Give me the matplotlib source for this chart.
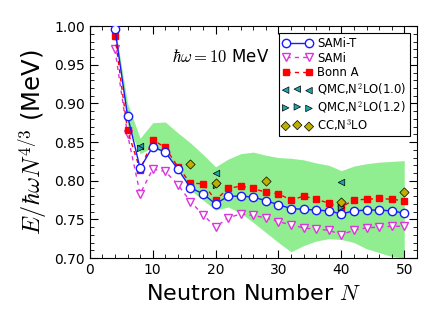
import matplotlib
matplotlib.use("Agg")
import matplotlib.pyplot as plt
from matplotlib.ticker import MultipleLocator

plt.rcParams['mathtext.fontset'] = 'cm'
plt.rcParams['font.family'] = ['DejaVu Sans']

N = [4, 6, 8, 10, 12, 14, 16, 18, 20, 22, 24, 26, 28, 30, 32, 34, 36, 38, 40, 42, 44, 46, 48, 50]
sami_t = [0.996, 0.884, 0.816, 0.844, 0.837, 0.815, 0.791, 0.783, 0.770, 0.780, 0.780, 0.779,
          0.774, 0.769, 0.764, 0.763, 0.762, 0.761, 0.757, 0.761, 0.762, 0.762, 0.761, 0.758]
sami = [0.970, 0.860, 0.783, 0.815, 0.812, 0.795, 0.773, 0.756, 0.740, 0.752, 0.757, 0.755,
        0.752, 0.747, 0.743, 0.739, 0.737, 0.736, 0.730, 0.736, 0.739, 0.740, 0.741, 0.741]
bonn_a = [0.987, 0.865, 0.814, 0.853, 0.843, 0.818, 0.797, 0.796, 0.775, 0.790, 0.793, 0.790,
          0.785, 0.783, 0.775, 0.780, 0.776, 0.771, 0.766, 0.775, 0.776, 0.777, 0.776, 0.774]

band_upper = [1.000, 0.900, 0.855, 0.875, 0.876, 0.862, 0.849, 0.834, 0.818, 0.828, 0.835, 0.837,
              0.833, 0.830, 0.829, 0.827, 0.823, 0.820, 0.813, 0.819, 0.822, 0.824, 0.825, 0.826]
band_lower = [0.992, 0.872, 0.835, 0.843, 0.835, 0.815, 0.788, 0.775, 0.762, 0.766, 0.758, 0.746,
              0.733, 0.720, 0.708, 0.716, 0.722, 0.725, 0.724, 0.720, 0.712, 0.707, 0.702, 0.700]

qmc10_N = [8, 20, 40]
qmc10 = [0.845, 0.810, 0.798]
qmc12_N = [8, 20, 40]
qmc12 = [0.842, 0.794, 0.766]
cc_N = [16, 20, 28, 40, 50]
cc = [0.822, 0.797, 0.800, 0.772, 0.786]

fig = plt.figure(figsize=(4.36, 3.27), dpi=100)
ax = fig.add_axes([0.206, 0.211, 0.750, 0.709])

ax.fill_between(N, band_lower, band_upper, color='#90ee90', lw=0, zorder=1)

ax.plot(N, bonn_a, ls='--', color='red', marker='s', ms=5, mfc='red', mec='red',
        lw=1, dashes=(3, 3), label='Bonn A', zorder=3)
ax.plot(N, sami, ls='--', color='#dd33dd', marker='v', ms=6, mfc='white', mec='#dd33dd',
        lw=1, dashes=(3, 3), label='SAMi', zorder=2)
ax.plot(N, sami_t, ls='-', color='#1a1aff', marker='o', ms=6, mfc='white', mec='#1a1aff',
        mew=1, lw=1, label='SAMi-T', zorder=4)
ax.scatter(qmc10_N, qmc10, marker='<', s=22, c='#1fa5b0', edgecolors='black', linewidths=0.5,
           label=r'QMC,N$^2$LO(1.0)', zorder=5)
ax.scatter(qmc12_N, qmc12, marker='>', s=22, c='#1fa5b0', edgecolors='black', linewidths=0.5,
           label=r'QMC,N$^2$LO(1.2)', zorder=5)
ax.scatter(cc_N, cc, marker='D', s=22, c='#bdb000', edgecolors='black', linewidths=0.5,
           label=r'CC,N$^3$LO', zorder=6)

ax.set_xlim(0, 52)
ax.set_ylim(0.70, 1.00)
ax.xaxis.set_major_locator(MultipleLocator(10))
ax.xaxis.set_minor_locator(MultipleLocator(2))
ax.yaxis.set_major_locator(MultipleLocator(0.05))
ax.yaxis.set_minor_locator(MultipleLocator(0.01))
ax.tick_params(which='both', direction='in', top=True, right=True, labelsize=10)
ax.tick_params(which='major', length=6)
ax.tick_params(which='minor', length=3)
ax.set_yticklabels(['%.2f' % v for v in ax.get_yticks()])

ax.set_xlabel(r'Neutron Number $N$', fontsize=16, labelpad=5)
ax.set_ylabel(r'$E/\hbar\omega N^{4/3}$ (MeV)', fontsize=17.5, labelpad=4)

ax.text(13, 0.96, r'$\hbar\omega = 10$ MeV', fontsize=12, ha='left', va='center')

handles, labels = ax.get_legend_handles_labels()
order = ['SAMi-T', 'SAMi', 'Bonn A', r'QMC,N$^2$LO(1.0)', r'QMC,N$^2$LO(1.2)', r'CC,N$^3$LO']
hl = dict(zip(labels, handles))
leg = ax.legend([hl[k] for k in order], order, loc='upper right', fontsize=8.4, numpoints=2,
                scatterpoints=3, fancybox=False, framealpha=1, edgecolor='black',
                handlelength=2.6, handletextpad=0.4, labelspacing=0.16, borderpad=0.3,
                borderaxespad=0.6)
leg.get_frame().set_linewidth(0.8)

fig.savefig('out.png', dpi=100)
